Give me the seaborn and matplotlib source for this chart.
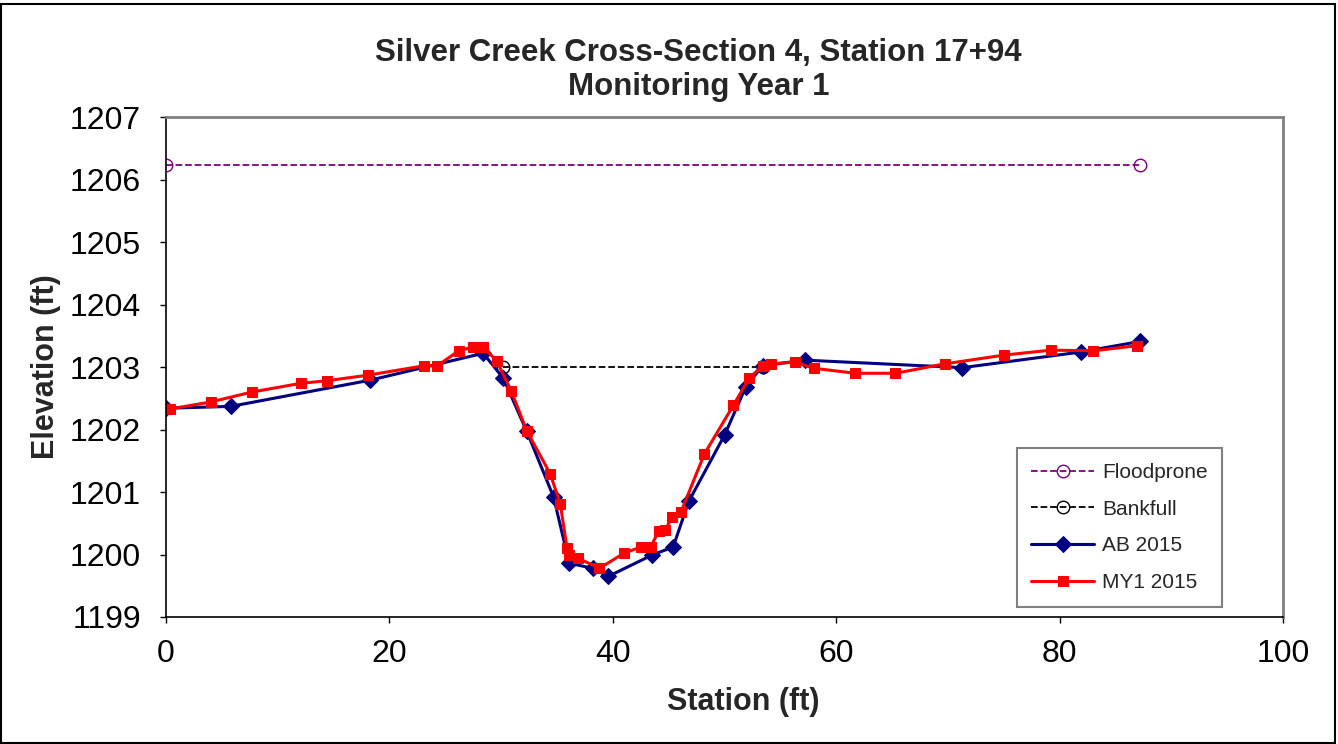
import matplotlib
matplotlib.use("Agg")
import matplotlib.pyplot as plt
import seaborn as sns
from matplotlib.patches import Rectangle

# Cross-section survey data (station ft, elevation ft)
ab_station = [0.0, 5.8, 18.3, 28.4, 30.2, 32.3, 34.7, 36.1, 38.2, 39.6,
              43.5, 45.4, 46.8, 50.0, 51.9, 53.4, 57.2, 71.3, 81.9, 87.2]
ab_elev = [1202.34, 1202.37, 1202.79, 1203.22, 1202.82, 1201.97, 1200.92, 1199.86,
           1199.78, 1199.65, 1199.99, 1200.12, 1200.85, 1201.91, 1202.68, 1203.02,
           1203.11, 1202.99, 1203.24, 1203.41]

my1_station = [0.4, 4.0, 7.7, 12.1, 14.4, 18.1, 23.1, 24.3, 26.2, 27.5, 28.4, 29.6,
               30.9, 32.3, 34.4, 35.3, 35.9, 36.1, 36.9, 38.8, 41.0, 42.5, 43.4,
               44.1, 44.7, 45.3, 46.1, 48.2, 50.8, 52.2, 53.4, 54.2, 56.3, 58.0,
               61.7, 65.3, 69.7, 75.0, 79.2, 83.0, 86.9]
my1_elev = [1202.33, 1202.44, 1202.60, 1202.74, 1202.78, 1202.87, 1203.02, 1203.02,
            1203.26, 1203.32, 1203.32, 1203.10, 1202.62, 1201.98, 1201.29, 1200.81,
            1200.10, 1199.99, 1199.94, 1199.78, 1200.02, 1200.12, 1200.12, 1200.38,
            1200.39, 1200.60, 1200.68, 1201.61, 1202.39, 1202.82, 1203.02, 1203.05,
            1203.08, 1202.98, 1202.90, 1202.90, 1203.05, 1203.19, 1203.27, 1203.26,
            1203.34]

bankfull_station = [30.2, 53.4]
bankfull_elev = [1203.0, 1203.0]
floodprone_station = [0.0, 87.2]
floodprone_elev = [1206.23, 1206.23]

sns.set_style("white")
plt.rcParams['font.family'] = ['Liberation Sans', 'DejaVu Sans']

fig = plt.figure(figsize=(13.38, 7.44), dpi=100)
ax = fig.add_axes([0.124, 0.1707, 0.835, 0.672])

sns.lineplot(x=floodprone_station, y=floodprone_elev, ax=ax, sort=False,
             color='#800080', linestyle='--', linewidth=1.3, marker='o', markersize=9,
             markerfacecolor='none', markeredgecolor='#800080', markeredgewidth=1.0,
             label='Floodprone')
sns.lineplot(x=bankfull_station, y=bankfull_elev, ax=ax, sort=False,
             color='black', linestyle='--', linewidth=1.3, marker='o', markersize=9,
             markerfacecolor='none', markeredgecolor='black', markeredgewidth=1.0,
             label='Bankfull')
sns.lineplot(x=ab_station, y=ab_elev, ax=ax, sort=False,
             color='#000080', linewidth=2.2, marker='D', markersize=8,
             markeredgecolor='#000080', label='AB 2015')
sns.lineplot(x=my1_station, y=my1_elev, ax=ax, sort=False,
             color='#ff0000', linewidth=2.2, marker='s', markersize=7,
             markeredgecolor='#ff0000', label='MY1 2015')

ax.set_xlim(0, 100)
ax.set_ylim(1199, 1207)
ax.set_xticks([0, 20, 40, 60, 80, 100])
ax.set_yticks(range(1199, 1208))
ax.tick_params(axis='both', direction='out', length=4, width=1, labelsize=23,
               bottom=True, left=True, colors='black')
ax.tick_params(axis='x', pad=12)
ax.tick_params(axis='y', pad=14)
ax.set_xlabel('Station (ft)', fontsize=22, fontweight='bold')
ax.set_ylabel('Elevation (ft)', fontsize=22, fontweight='bold')
ax.xaxis.set_label_coords(0.517, -0.14)
ax.yaxis.set_label_coords(-0.094, 0.5)

for side in ['left', 'bottom']:
    ax.spines[side].set_color('black')
    ax.spines[side].set_linewidth(1.2)
for side in ['top', 'right']:
    ax.spines[side].set_color('#808080')
    ax.spines[side].set_linewidth(2)

fig.text(0.522, 0.906, 'Silver Creek Cross-Section 4, Station 17+94\nMonitoring Year 1',
         ha='center', va='center', fontsize=22.5, fontweight='bold', linespacing=1.2)

leg = ax.legend(loc='lower right', bbox_to_anchor=(0.955, 0.0), fontsize=15,
                frameon=True, fancybox=False, edgecolor='#808080', framealpha=1,
                handlelength=3.0, labelspacing=0.85, borderpad=0.7, handletextpad=0.4)
leg.get_frame().set_linewidth(1.5)

fig.patches.append(Rectangle((0.001, 0.001), 0.997, 0.994, transform=fig.transFigure,
                             fill=False, edgecolor='black', linewidth=1.5))

fig.savefig('out.png', dpi=100)
